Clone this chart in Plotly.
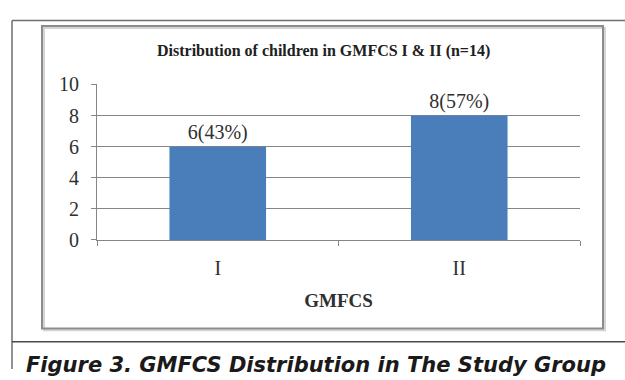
import plotly.graph_objects as go

# GMFCS levels and number of children at each level
levels = ["I", "II"]
counts = [6, 8]
percents = [43, 57]
y_ticks = [0, 2, 4, 6, 8, 10]

W, H = 625, 380

def px(x):
    return x / W

def py(y):
    return 1 - y / H

labels = [f"{c}({p}%)" for c, p in zip(counts, percents)]

fig = go.Figure(
    go.Bar(
        x=levels,
        y=counts,
        text=labels,
        textposition="outside",
        cliponaxis=False,
        marker=dict(color="#4a7ebb", line=dict(width=0)),
        textfont=dict(family="Liberation Serif", size=20, color="#303030"),
    )
)

grid = "#868686"
fig.update_layout(
    width=W,
    height=H,
    margin=dict(l=0, r=0, t=0, b=0),
    paper_bgcolor="white",
    plot_bgcolor="white",
    bargap=0.6,
    showlegend=False,
    xaxis=dict(
        domain=[px(97), px(580)],
        anchor="y",
        showline=True,
        linecolor=grid,
        linewidth=1,
        ticks="outside",
        tickson="boundaries",
        ticklen=5,
        tickcolor=grid,
        ticklabelstandoff=10,
        tickfont=dict(family="Liberation Serif", size=20, color="#303030"),
        title=dict(
            text="<b>GMFCS</b>",
            font=dict(family="Liberation Serif", size=19, color="#303030"),
            standoff=15,
        ),
    ),
    yaxis=dict(
        domain=[py(243), py(78)],
        range=[0, 10],
        tickvals=y_ticks,
        showgrid=True,
        gridcolor=grid,
        gridwidth=1,
        zeroline=False,
        showline=True,
        linecolor=grid,
        linewidth=1,
        ticks="outside",
        ticklen=5,
        tickcolor=grid,
        ticklabelstandoff=8,
        tickfont=dict(family="Liberation Serif", size=20, color="#303030"),
    ),
)

shapes = [
    # outer figure frame
    dict(type="line", xref="paper", yref="paper", x0=px(12), x1=px(12), y0=py(10), y1=py(380),
         line=dict(color="#6e6e6e", width=1.5)),
    dict(type="line", xref="paper", yref="paper", x0=px(12), x1=1.0, y0=py(10), y1=py(10),
         line=dict(color="#6e6e6e", width=1.5)),
    dict(type="line", xref="paper", yref="paper", x0=px(12), x1=1.0, y0=py(351), y1=py(351),
         line=dict(color="#4a4a4a", width=1.5)),
    # chart area border with soft shadow
    dict(type="rect", xref="paper", yref="paper", x0=px(44), x1=px(605), y0=py(339), y1=py(18),
         line=dict(color="#d4d4d4", width=2)),
    dict(type="rect", xref="paper", yref="paper", x0=px(42), x1=px(603), y0=py(337), y1=py(16),
         line=dict(color="#8c8c8c", width=2)),
]
fig.update_layout(shapes=shapes)

fig.add_annotation(
    x=px(323), y=py(42), xref="paper", yref="paper",
    text="<b>Distribution of children in GMFCS I &amp; II (n=14)</b>",
    showarrow=False, xanchor="center", yanchor="middle",
    font=dict(family="Liberation Serif", size=16, color="#202020"),
)
fig.add_annotation(
    x=px(316), y=py(376), xref="paper", yref="paper",
    text="<b><i>Figure 3. GMFCS Distribution in The Study Group</i></b>",
    showarrow=False, xanchor="center", yanchor="middle",
    font=dict(family="DejaVu Sans", size=21, color="#1a1a1a"),
)

fig.write_html("out.html")
